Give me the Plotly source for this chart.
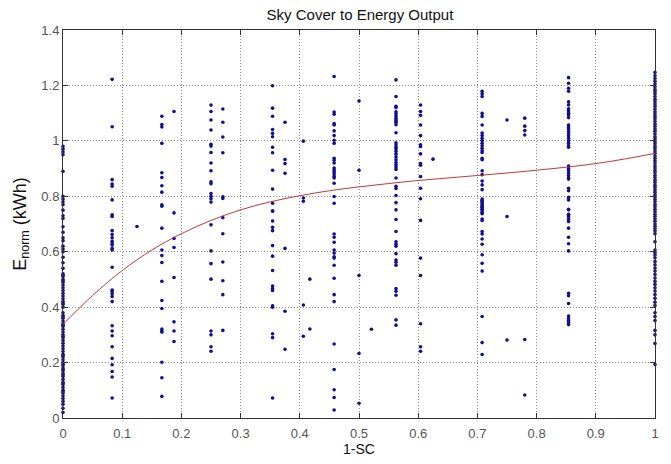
import plotly.graph_objects as go

# ---- scatter data: 1-SC value for each column and the E_norm values
x_000 = 0.0
y_000 = [0.98, 0.97, 0.96, 0.95, 0.89, 0.80, 0.79, 0.78, 0.77, 0.75, 0.73, 0.72, 0.69, 0.67,
         0.65, 0.64, 0.62, 0.61, 0.60, 0.58, 0.56, 0.54, 0.52, 0.515, 0.51, 0.50, 0.495, 0.49,
         0.48, 0.47, 0.46, 0.45, 0.44, 0.43, 0.42, 0.415, 0.41, 0.40, 0.38, 0.37, 0.365, 0.36,
         0.35, 0.34, 0.335, 0.33, 0.32, 0.31, 0.30, 0.295, 0.29, 0.28, 0.27, 0.26, 0.25, 0.24,
         0.23, 0.225, 0.22, 0.21, 0.20, 0.195, 0.19, 0.18, 0.175, 0.17, 0.16, 0.155, 0.15, 0.14,
         0.13, 0.125, 0.12, 0.11, 0.10, 0.095, 0.09, 0.08, 0.07, 0.06, 0.05, 0.035, 0.02]
x_083 = 0.083
y_083 = [1.222, 1.051, 0.860, 0.844, 0.836, 0.787, 0.733, 0.727, 0.676, 0.662, 0.650, 0.638,
         0.631, 0.624, 0.612, 0.606, 0.544, 0.462, 0.457, 0.448, 0.438, 0.420, 0.333, 0.314,
         0.297, 0.257, 0.215, 0.192, 0.168, 0.148, 0.072]
x_125 = 0.125
y_125 = [0.691]
x_167 = 0.167
y_167 = [1.089, 1.059, 1.050, 0.991, 0.885, 0.868, 0.838, 0.815, 0.769, 0.764, 0.685, 0.606,
         0.586, 0.561, 0.493, 0.424, 0.395, 0.321, 0.314, 0.310, 0.201, 0.145, 0.078]
x_188 = 0.1875
y_188 = [1.106, 0.740, 0.648, 0.615, 0.507, 0.347, 0.314, 0.276]
x_250 = 0.25
y_250 = [1.129, 1.106, 1.075, 1.039, 0.988, 0.981, 0.958, 0.920, 0.892, 0.852, 0.845, 0.810,
         0.800, 0.791, 0.779, 0.697, 0.603, 0.557, 0.501, 0.314, 0.300, 0.257, 0.241]
x_270 = 0.27
y_270 = [1.115, 1.067, 1.014, 0.957, 0.798, 0.792, 0.723, 0.665, 0.563, 0.495, 0.445, 0.316]
x_354 = 0.354
y_354 = [1.199, 1.118, 1.089, 1.041, 1.027, 1.015, 0.977, 0.957, 0.894, 0.826, 0.775, 0.748,
         0.746, 0.711, 0.688, 0.676, 0.622, 0.584, 0.532, 0.476, 0.467, 0.460, 0.405, 0.400,
         0.304, 0.290, 0.072]
x_375 = 0.375
y_375 = [1.067, 0.933, 0.918, 0.883, 0.612, 0.385, 0.248]
x_406 = 0.406
y_406 = [0.999, 0.794, 0.782, 0.408, 0.295]
x_417 = 0.417
y_417 = [0.501, 0.321]
x_458 = 0.458
y_458 = [1.232, 1.104, 1.096, 1.062, 1.057, 1.036, 1.019, 1.002, 0.991, 0.937, 0.930, 0.920,
         0.902, 0.895, 0.888, 0.880, 0.872, 0.866, 0.847, 0.799, 0.775, 0.664, 0.652, 0.634,
         0.606, 0.595, 0.582, 0.577, 0.551, 0.504, 0.445, 0.420, 0.267, 0.175, 0.102, 0.074,
         0.029]
x_500 = 0.5
y_500 = [1.144, 0.894, 0.514, 0.233, 0.053]
x_521 = 0.521
y_521 = [0.320]
x_563 = 0.5625
y_563 = [1.220, 1.160, 1.125, 1.120, 1.105, 1.098, 1.090, 1.082, 1.075, 1.070, 1.065, 1.058,
         1.029, 0.993, 0.985, 0.977, 0.971, 0.962, 0.952, 0.942, 0.932, 0.922, 0.914, 0.906,
         0.897, 0.866, 0.836, 0.828, 0.803, 0.777, 0.751, 0.716, 0.673, 0.636, 0.627, 0.620,
         0.593, 0.570, 0.562, 0.551, 0.467, 0.457, 0.443, 0.354, 0.335]
x_604 = 0.604
y_604 = [1.129, 1.106, 1.092, 1.057, 1.019, 0.986, 0.980, 0.953, 0.918, 0.912, 0.871, 0.829,
         0.791, 0.713, 0.577, 0.514, 0.340, 0.257, 0.241]
x_625 = 0.625
y_625 = [0.934]
x_708 = 0.708
y_708 = [1.179, 1.170, 1.160, 1.099, 1.088, 1.057, 1.028, 1.019, 1.009, 1.000, 0.991, 0.982,
         0.973, 0.964, 0.958, 0.937, 0.932, 0.892, 0.878, 0.855, 0.841, 0.824, 0.790, 0.783,
         0.772, 0.763, 0.752, 0.740, 0.785, 0.778, 0.767, 0.760, 0.753, 0.744, 0.737, 0.718,
         0.713, 0.673, 0.664, 0.646, 0.627, 0.589, 0.558, 0.530, 0.366, 0.272, 0.229]
x_750 = 0.75
y_750 = [1.075, 0.727, 0.281]
x_780 = 0.78
y_780 = [1.082, 1.053, 1.037, 1.021, 0.283, 0.083]
x_854 = 0.854
y_854 = [1.228, 1.208, 1.190, 1.179, 1.141, 1.130, 1.116, 1.109, 1.100, 1.093, 1.084, 1.057,
         1.050, 1.043, 1.034, 1.025, 1.018, 1.009, 1.000, 0.991, 0.982, 0.977, 0.909, 0.900,
         0.893, 0.884, 0.875, 0.866, 0.862, 0.829, 0.820, 0.796, 0.787, 0.751, 0.735, 0.753,
         0.731, 0.725, 0.716, 0.709, 0.685, 0.652, 0.629, 0.603, 0.450, 0.441, 0.413, 0.368,
         0.359, 0.352, 0.345, 0.337]
x_100 = 1.0
y_100 = [1.247, 1.235, 1.225, 1.215, 1.205, 1.195, 1.185, 1.178, 1.170, 1.160, 1.150, 1.142,
         1.133, 1.125, 1.115, 1.105, 1.097, 1.088, 1.080, 1.070, 1.060, 1.052, 1.043, 1.035,
         1.025, 1.015, 1.007, 0.998, 0.990, 0.980, 0.972, 0.963, 0.955, 0.945, 0.937, 0.928,
         0.920, 0.910, 0.902, 0.893, 0.885, 0.875, 0.867, 0.858, 0.850, 0.840, 0.832, 0.823,
         0.815, 0.805, 0.797, 0.788, 0.780, 0.770, 0.762, 0.753, 0.745, 0.735, 0.727, 0.718,
         0.710, 0.700, 0.692, 0.683, 0.675, 0.665, 0.636, 0.606, 0.597, 0.588, 0.578, 0.565,
         0.553, 0.541, 0.530, 0.518, 0.505, 0.493, 0.482, 0.470, 0.458, 0.445, 0.432, 0.418,
         0.406, 0.380, 0.366, 0.352, 0.316, 0.300, 0.269, 0.193]

# ---- fitted curve
fit_x = [0.0, 0.05, 0.1, 0.15, 0.2, 0.25, 0.3, 0.35, 0.4, 0.45, 0.5, 0.55, 0.6, 0.65, 0.7,
         0.75, 0.8, 0.85, 0.9, 0.95, 1.0]
fit_y = [0.338, 0.442, 0.532, 0.606, 0.665, 0.713, 0.751, 0.780, 0.802, 0.820, 0.834, 0.846,
         0.857, 0.866, 0.875, 0.884, 0.894, 0.905, 0.918, 0.935, 0.955]

x_ticks = [0, 0.1, 0.2, 0.3, 0.4, 0.5, 0.6, 0.7, 0.8, 0.9, 1]
y_ticks = [0, 0.2, 0.4, 0.6, 0.8, 1, 1.2, 1.4]

columns = [(x_000, y_000), (x_083, y_083), (x_125, y_125), (x_167, y_167), (x_188, y_188),
           (x_250, y_250), (x_270, y_270), (x_354, y_354), (x_375, y_375), (x_406, y_406),
           (x_417, y_417), (x_458, y_458), (x_500, y_500), (x_521, y_521), (x_563, y_563),
           (x_604, y_604), (x_625, y_625), (x_708, y_708), (x_750, y_750), (x_780, y_780),
           (x_854, y_854), (x_100, y_100)]

sx, sy = [], []
for cx, ys in columns:
    sx += [cx] * len(ys)
    sy += ys

FONT = "Liberation Sans, Arial, sans-serif"

fig = go.Figure()
fig.add_trace(go.Scatter(
    x=sx, y=sy, mode="markers",
    marker=dict(symbol="circle", size=3.6, color="#10108a", line=dict(width=0)),
    cliponaxis=False, showlegend=False, hoverinfo="x+y"))
fig.add_trace(go.Scatter(
    x=fit_x, y=fit_y, mode="lines", line=dict(color="#c03838", width=1, shape="spline"),
    showlegend=False))

axis_common = dict(
    showline=True, linecolor="#333333", linewidth=1, mirror="ticks",
    ticks="inside", ticklen=5, tickcolor="#333333",
    showgrid=True, gridcolor="#8a8a8a", gridwidth=1, griddash="1px,2px",
    zeroline=False, tickfont=dict(family=FONT, size=13, color="#555555"),
)

fig.update_layout(
    width=671, height=464,
    margin=dict(l=63, r=14, t=30, b=37),
    paper_bgcolor="white", plot_bgcolor="white",
    title=dict(text="Sky Cover to Energy Output", x=(63 + 657) / 2 / 671, xanchor="center",
               y=1 - 15 / 464, yanchor="middle",
               font=dict(family=FONT, size=15, color="#111111")),
    xaxis=dict(range=[0, 1], tickvals=x_ticks, ticklabelstandoff=3,
               title=dict(text="1-SC", standoff=2,
                          font=dict(family=FONT, size=14, color="#111111")),
               **axis_common),
    yaxis=dict(range=[0, 1.4], tickvals=y_ticks,
               title=dict(text="E<sub>norm</sub> (kWh)", standoff=10,
                          font=dict(family=FONT, size=18, color="#111111")),
               **axis_common),
)

fig.write_html("out.html")
